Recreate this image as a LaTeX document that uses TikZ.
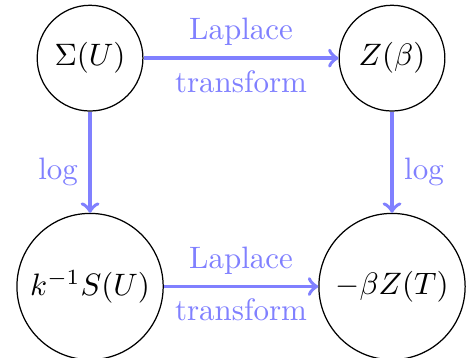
\documentclass[tikz,border=0pt]{standalone}
\usepackage{amsmath,amssymb}
\usetikzlibrary{arrows,positioning}

\begin{document}
\begin{tikzpicture}[
    small/.style={circle, draw, minimum size=1.2cm, inner sep=1pt},
    big/.style={circle, draw, minimum size=1.66cm, inner sep=1pt},
    arrow/.style={->, very thick, blue!50},
    lbl/.style={blue!50}
]
\useasboundingbox (0,0) rectangle (5.3,-4.063);

% Top row
\node[small] (sigma) at (1.022,-0.66) {$\Sigma(U)$};
\node[small] (zbeta) at (4.449,-0.66) {$Z(\beta)$};

% Bottom row
\node[big] (entropy) at (1.022,-3.252) {$k^{-1}S(U)$};
\node[big] (free) at (4.449,-3.252) {$-\beta Z(T)$};

% Arrows
\draw[arrow] (sigma) -- (zbeta) node[midway, above, lbl] {Laplace} node[midway, below, lbl] {transform};
\draw[arrow] (entropy) -- (free) node[midway, above, lbl] {Laplace} node[midway, below, lbl] {transform};
\draw[arrow] (sigma) -- (entropy) node[pos=0.6, left, lbl] {log};
\draw[arrow] (zbeta) -- (free) node[pos=0.6, right, lbl] {log};

\end{tikzpicture}
\end{document}
